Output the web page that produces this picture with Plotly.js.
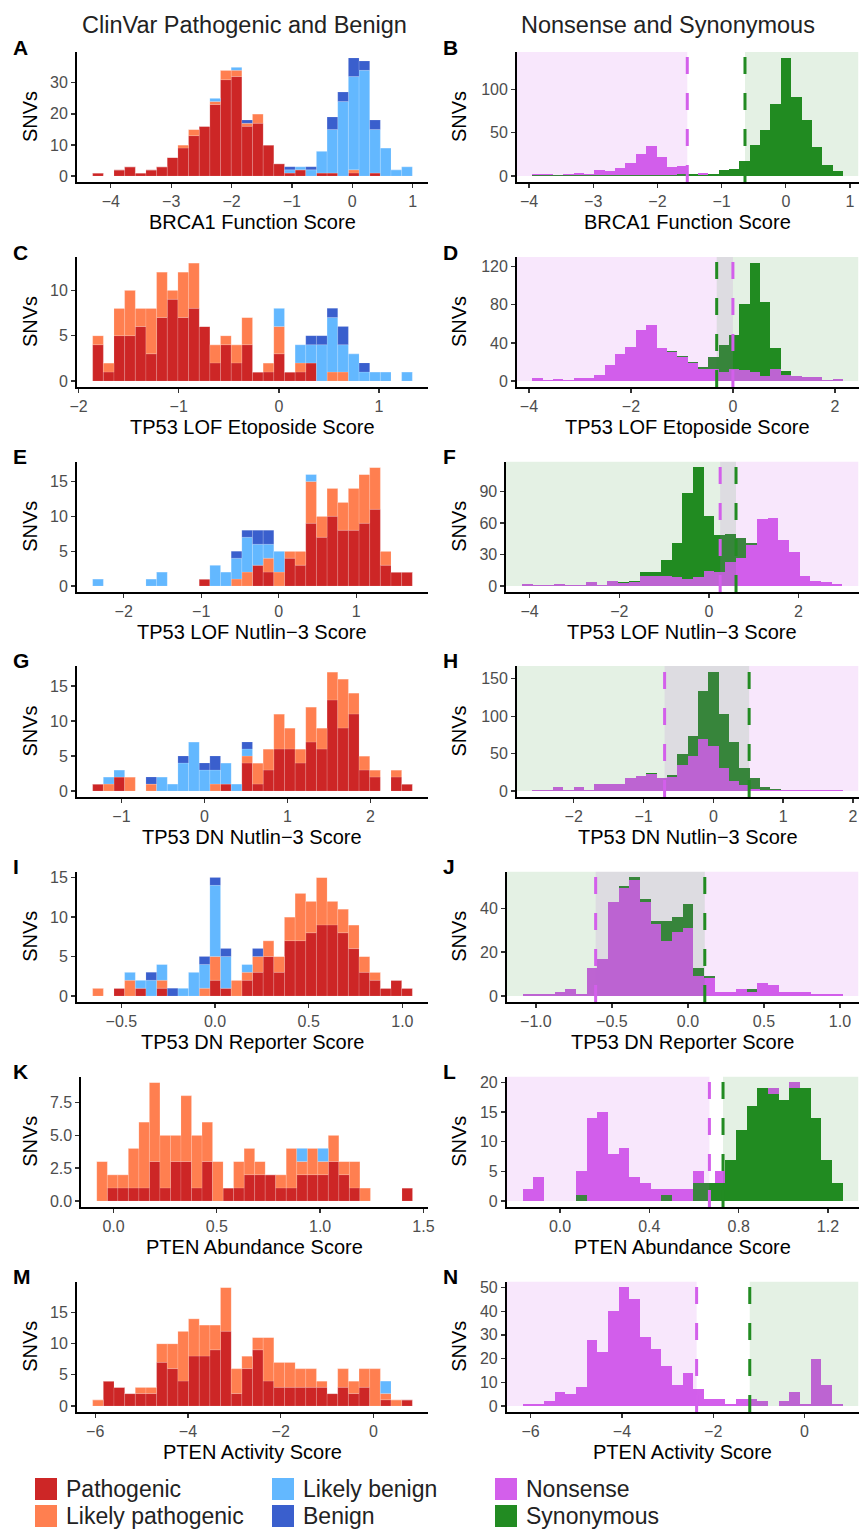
<!DOCTYPE html>
<html>
<head>
<meta charset="utf-8">
<script src="https://cdn.plot.ly/plotly-3.0.1.min.js"></script>
<style>
html,body{margin:0;padding:0;background:#fff;}
#chart{width:859px;height:1531px;}
</style>
</head>
<body>
<div id="chart"></div>
<script>
// ================= DATA (30 histogram bins per panel) =================
// bin extents: [left edge of first bin, right edge of last bin]
const A_bins = [-4.30, 0.995];
const A_pathogenic      = [1,0,2,3,1,2,3,6,9,13,16,23,31,32,16,17,10,4,1,2,0,1,1,0,1,0,1,0,0,0];
const A_likelyPath      = [0,0,0,0,0,0,0,0,1,2,0,1,3,2,1,3,0,0,0,0,0,0,0,0,1,0,0,0,0,0];
const A_likelyBenign    = [0,0,0,0,0,0,0,0,0,0,0,1,0,1,0,0,0,0,1,1,2,7,14,24,30,34,14,9,2,3];
const A_benign          = [0,0,0,0,0,0,0,0,0,0,0,0,0,0,1,0,0,0,1,0,1,0,4,3,6,3,3,0,0,0];

const B_bins = [-3.95, 0.89];
const B_nonsense   = [2,2,1,2,3,2,7,6,9,15,26,35,22,10,12,1,3,1,0,0,0,0,0,0,0,0,0,0,0,0];
const B_synonymous = [1,1,1,1,1,1,1,1,1,1,1,1,1,1,2,2,1,2,7,8,17,36,53,83,136,91,65,33,13,6];
const B_thresholds = {nonsense:-1.535, synonymous:-0.636};

const C_bins = [-1.859, 1.332];
const C_pathogenic   = [4,1,5,5,6,3,7,9,7,8,6,2,4,2,4,1,1,3,1,1,2,0,0,0,0,0,0,0,0,0];
const C_likelyPath   = [1,1,3,5,2,5,5,1,5,5,0,2,1,2,3,0,1,3,0,1,0,0,1,1,0,0,0,0,0,0];
const C_likelyBenign = [0,0,0,0,0,0,0,0,0,0,0,0,0,0,0,0,0,2,0,2,2,4,6,3,3,1,1,1,0,1];
const C_benign       = [0,0,0,0,0,0,0,0,0,0,0,0,0,0,0,0,0,0,0,0,1,1,1,2,0,1,0,0,0,0];

const D_bins = [-3.935, 2.158];
const D_nonsense   = [3,1,2,1,3,3,6,17,28,36,54,59,35,31,25,19,13,13,10,13,12,10,5,13,6,5,4,4,1,2];
const D_synonymous = [0,0,0,0,0,0,0,0,0,0,0,0,0,32,26,20,15,25,38,48,81,124,83,35,11,0,0,0,0,0];
const D_thresholds = {nonsense:0.0, synonymous:-0.318};

const E_bins = [-2.40, 1.723];
const E_pathogenic   = [0,0,0,0,0,0,0,0,0,0,1,0,0,0,0,3,2,0,4,3,9,7,10,8,8,9,11,3,2,2];
const E_likelyPath   = [0,0,0,0,0,0,0,0,0,0,0,0,0,1,2,0,2,2,1,2,6,3,4,4,6,7,6,2,0,0];
const E_likelyBenign = [1,0,0,0,0,1,2,0,0,0,0,3,2,3,5,3,2,3,0,0,1,0,0,0,0,0,0,0,0,0];
const E_benign       = [0,0,0,0,0,0,0,0,0,0,0,0,0,1,1,2,2,0,0,0,0,0,0,0,0,0,0,0,0,0];

const F_bins = [-4.17, 2.98];
const F_nonsense   = [2,1,1,2,1,1,4,1,5,3,4,10,10,10,9,7,9,14,13,23,27,39,64,65,44,32,10,5,4,2];
const F_synonymous = [0,0,0,0,0,0,0,0,0,4,5,13,13,25,41,89,113,67,49,50,46,41,0,0,0,0,0,0,0,0];
const F_thresholds = {nonsense:0.251, synonymous:0.605};

const G_bins = [-1.346, 2.504];
const G_pathogenic   = [1,0,2,0,0,0,0,0,0,0,0,0,1,0,4,1,3,6,6,4,7,6,13,9,11,3,2,0,2,1];
const G_likelyPath   = [0,1,0,2,0,1,0,0,0,0,0,1,0,0,1,3,3,5,3,2,5,3,4,7,3,2,1,0,1,0];
const G_likelyBenign = [0,1,1,0,0,0,2,1,4,7,3,2,3,1,1,0,0,0,0,0,0,0,0,0,0,0,0,0,0,0];
const G_benign       = [0,0,0,0,0,1,0,0,1,0,1,2,0,0,1,0,0,0,0,0,0,0,0,0,0,0,0,0,0,0];

const H_bins = [-2.594, 1.857];
const H_nonsense   = [2,1,5,2,6,1,9,9,9,17,20,23,18,19,35,47,69,60,31,14,8,3,2,2,1,1,1,2,1,1];
const H_synonymous = [0,0,0,0,0,0,0,0,0,0,0,24,15,22,50,74,133,159,103,66,31,18,5,3,2,0,0,0,0,0];
const H_thresholds = {nonsense:-0.698, synonymous:0.513};

const I_bins = [-0.653, 1.053];
const I_pathogenic   = [0,0,1,0,1,0,1,0,0,0,0,2,1,0,2,3,5,3,7,7,8,9,9,8,6,3,2,1,2,1];
const I_likelyPath   = [1,0,0,2,0,0,1,0,0,0,1,3,0,2,1,2,2,2,3,6,4,6,3,3,3,2,1,0,0,0];
const I_likelyBenign = [0,0,0,1,1,2,2,0,1,3,3,9,4,0,1,0,0,0,0,0,0,0,0,0,0,0,0,0,0,0];
const I_benign       = [0,0,0,0,0,1,0,1,0,0,1,1,1,0,0,1,0,0,0,0,0,0,0,0,0,0,0,0,0,0];

const J_bins = [-1.087, 1.017];
const J_nonsense   = [1,1,1,2,3,1,13,17,43,49,53,43,33,25,29,31,9,8,2,2,3,2,6,5,2,2,2,1,1,1];
const J_synonymous = [0,0,0,0,0,0,0,0,0,50,54,44,34,34,36,42,13,9,0,0,0,3,0,0,0,0,0,0,0,0];
const J_thresholds = {nonsense:-0.607, synonymous:0.111};

const K_bins = [-0.081, 1.447];
const K_pathogenic   = [0,1,1,1,1,3,1,3,3,1,3,0,1,1,2,2,2,1,1,2,2,2,3,2,1,0,0,0,0,1];
const K_likelyPath   = [3,1,1,3,5,6,4,2,5,4,3,3,0,2,2,1,0,1,3,1,2,1,2,1,2,1,0,0,0,0];
const K_likelyBenign = [0,0,0,0,0,0,0,0,0,0,0,0,0,0,0,0,0,0,0,1,0,1,0,0,0,0,0,0,0,0];
const K_benign       = [0,0,0,0,0,0,0,0,0,0,0,0,0,0,0,0,0,0,0,0,0,0,0,0,0,0,0,0,0,0];

const L_bins = [-0.168, 1.265];
const L_nonsense   = [2,4,0,0,0,5,14,15,8,9,4,3,2,2,2,2,5,3,5,0,0,0,0,19,0,20,0,0,0,0];
const L_synonymous = [0,0,0,0,0,1,0,0,0,0,0,0,0,1,0,0,3,3,3,7,12,16,19,18,17,19,19,14,7,3];
const L_thresholds = {nonsense:0.669, synonymous:0.730};

const M_bins = [-6.054, 0.837];
const M_pathogenic   = [0,4,3,2,2,2,7,6,4,8,8,9,12,2,6,9,4,3,3,3,3,3,2,3,2,3,0,1,0,1];
const M_likelyPath   = [1,0,0,0,1,1,3,4,8,6,5,4,7,4,2,2,7,4,4,3,3,1,0,3,2,3,6,1,1,0];
const M_likelyBenign = [0,0,0,0,0,0,0,0,0,0,0,0,0,0,0,0,0,0,0,0,0,0,0,0,0,0,0,2,0,0];
const M_benign       = [0,0,0,0,0,0,0,0,0,0,0,0,0,0,0,0,0,0,0,0,0,0,0,0,0,0,0,0,0,0];

const N_bins = [-6.177, 0.831];
const N_nonsense   = [1,1,2,6,5,8,28,23,40,50,45,29,24,17,9,14,7,3,3,1,3,3,2,0,2,6,1,20,9,1];
const N_synonymous = [0,0,0,0,0,0,0,0,0,0,0,0,0,0,0,0,0,0,0,0,0,0,0,0,0,0,0,0,0,0];
const N_thresholds = {nonsense:-2.364, synonymous:-1.20};

// tick labels
const A_xticks=[-4,-3,-2,-1,0,1],  A_yticks=[0,10,20,30];
const B_xticks=[-4,-3,-2,-1,0,1],  B_yticks=[0,50,100];
const C_xticks=[-2,-1,0,1],        C_yticks=[0,5,10];
const D_xticks=[-4,-2,0,2],        D_yticks=[0,40,80,120];
const E_xticks=[-2,-1,0,1],        E_yticks=[0,5,10,15];
const F_xticks=[-4,-2,0,2],        F_yticks=[0,30,60,90];
const G_xticks=[-1,0,1,2],         G_yticks=[0,5,10,15];
const H_xticks=[-2,-1,0,1,2],      H_yticks=[0,50,100,150];
const I_xticks=[-0.5,0,0.5,1],     I_yticks=[0,5,10,15];
const J_xticks=[-1,-0.5,0,0.5,1],  J_yticks=[0,20,40];
const K_xticks=[0,0.5,1,1.5],      K_yticks=[0,2.5,5,7.5];
const L_xticks=[0,0.4,0.8,1.2],    L_yticks=[0,5,10,15,20];
const M_xticks=[-6,-4,-2,0],       M_yticks=[0,5,10,15];
const N_xticks=[-6,-4,-2,0],       N_yticks=[0,10,20,30,40,50];

const axisTitles = ['BRCA1 Function Score','TP53 LOF Etoposide Score','TP53 LOF Nutlin\u22123 Score',
  'TP53 DN Nutlin\u22123 Score','TP53 DN Reporter Score','PTEN Abundance Score','PTEN Activity Score'];
const columnTitles = ['ClinVar Pathogenic and Benign','Nonsense and Synonymous'];
const legendLabels = ['Pathogenic','Likely pathogenic','Likely benign','Benign','Nonsense','Synonymous'];

// ================= STYLE / LAYOUT CONFIG =================
const W = 859, H = 1531;
const FONT = 'Liberation Sans, Arial, Helvetica, sans-serif';
const COLORS = {P:'#CD2626', LP:'#FF7F50', LB:'#63B8FF', B:'#3A5FCD', NS:'#D35FEB', SY:'#228B22'};
const ROWS = [[52,182],[257,387],[461.5,592],[666,797],[871.5,1002],[1076.5,1207],[1281.5,1412]];

const panels = [
 {id:'A', row:0, left:76.7,  bins:A_bins, st:[A_pathogenic,A_likelyPath,A_likelyBenign,A_benign], xt:A_xticks, yt:A_yticks},
 {id:'B', row:0, left:516.7, bins:B_bins, ns:B_nonsense, sy:B_synonymous, thr:B_thresholds, nsLow:true,  top:'SY', xt:B_xticks, yt:B_yticks},
 {id:'C', row:1, left:76.7,  bins:C_bins, st:[C_pathogenic,C_likelyPath,C_likelyBenign,C_benign], xt:C_xticks, yt:C_yticks},
 {id:'D', row:1, left:516.7, bins:D_bins, ns:D_nonsense, sy:D_synonymous, thr:D_thresholds, nsLow:true,  top:'NS', xt:D_xticks, yt:D_yticks},
 {id:'E', row:2, left:76.7,  bins:E_bins, st:[E_pathogenic,E_likelyPath,E_likelyBenign,E_benign], xt:E_xticks, yt:E_yticks},
 {id:'F', row:2, left:506,   bins:F_bins, ns:F_nonsense, sy:F_synonymous, thr:F_thresholds, nsLow:false, top:'NS', xt:F_xticks, yt:F_yticks},
 {id:'G', row:3, left:76.7,  bins:G_bins, st:[G_pathogenic,G_likelyPath,G_likelyBenign,G_benign], xt:G_xticks, yt:G_yticks},
 {id:'H', row:3, left:516.7, bins:H_bins, ns:H_nonsense, sy:H_synonymous, thr:H_thresholds, nsLow:false, top:'NS', xt:H_xticks, yt:H_yticks},
 {id:'I', row:4, left:76.7,  bins:I_bins, st:[I_pathogenic,I_likelyPath,I_likelyBenign,I_benign], xt:I_xticks, yt:I_yticks, xf:'.1f'},
 {id:'J', row:4, left:506.7, bins:J_bins, ns:J_nonsense, sy:J_synonymous, thr:J_thresholds, nsLow:false, top:'NS', xt:J_xticks, yt:J_yticks, xf:'.1f'},
 {id:'K', row:5, left:81,    bins:K_bins, st:[K_pathogenic,K_likelyPath,K_likelyBenign,K_benign], xt:K_xticks, yt:K_yticks, xf:'.1f', yf:'.1f'},
 {id:'L', row:5, left:506.5, bins:L_bins, ns:L_nonsense, sy:L_synonymous, thr:L_thresholds, nsLow:true,  top:'SY', xt:L_xticks, yt:L_yticks, xf:'.1f'},
 {id:'M', row:6, left:76.7,  bins:M_bins, st:[M_pathogenic,M_likelyPath,M_likelyBenign,M_benign], xt:M_xticks, yt:M_yticks},
 {id:'N', row:6, left:506.5, bins:N_bins, ns:N_nonsense, sy:N_synonymous, thr:N_thresholds, nsLow:true,  top:'SY', xt:N_xticks, yt:N_yticks}
];

const px = x => x / W;
const py = y => 1 - y / H;

const traces = [];
const layout = {
  width: W, height: H,
  margin: {l:0, r:0, t:0, b:0},
  paper_bgcolor: '#fff', plot_bgcolor: 'rgba(0,0,0,0)',
  barmode: 'overlay', bargap: 0,
  showlegend: false,
  font: {family: FONT, color: '#000'},
  shapes: [], annotations: []
};

const stackKeys = ['P','LP','LB','B'];

panels.forEach((p, i) => {
  const k = i + 1;
  const sfx = k === 1 ? '' : String(k);
  const xa = 'x' + sfx, ya = 'y' + sfx;
  const n = 30;
  const w = (p.bins[1] - p.bins[0]) / n;
  const cx = Array.from({length:n}, (_, j) => p.bins[0] + (j + 0.5) * w);
  const span = p.bins[1] - p.bins[0];
  const xr = [p.bins[0] - 0.05 * span, p.bins[1] + 0.05 * span];
  let ymax;
  const isLeft = !!p.st;
  if (isLeft) {
    let base = new Array(n).fill(0);
    p.st.forEach((arr, si) => {
      traces.push({type:'bar', x:cx, y:arr, base:base.slice(), width:w, xaxis:xa, yaxis:ya,
        marker:{color:COLORS[stackKeys[si]], line:{color:'rgba(255,255,255,0.35)', width:0.4}},
        hoverinfo:'skip', showlegend:false});
      base = base.map((b, j) => b + arr[j]);
    });
    ymax = Math.max(...base);
  } else {
    const nsT = {type:'bar', x:cx, y:p.ns, width:w, xaxis:xa, yaxis:ya,
      marker:{color:COLORS.NS, line:{width:0}}, hoverinfo:'skip', showlegend:false};
    const syT = {type:'bar', x:cx, y:p.sy, width:w, xaxis:xa, yaxis:ya,
      marker:{color:COLORS.SY, line:{width:0}}, hoverinfo:'skip', showlegend:false};
    if (p.top === 'NS') { traces.push(syT, nsT); } else { traces.push(nsT, syT); }
    ymax = Math.max(Math.max(...p.ns), Math.max(...p.sy));
  }
  const yr = [-0.05 * ymax, 1.05 * ymax];
  const row = ROWS[p.row];
  const right = isLeft ? 428.3 : 858.5;

  layout['xaxis' + sfx] = {
    domain:[px(p.left), px(right)], anchor:ya, range:xr, fixedrange:true,
    tickmode:'array', tickvals:p.xt, tickformat:p.xf || '',
    showgrid:false, zeroline:false, showline:true, linecolor:'#000', linewidth:1.6,
    ticks:'outside', ticklen:4, tickwidth:1.3, tickcolor:'#333',
    tickfont:{family:FONT, size:16, color:'#4D4D4D'}
  };
  layout['yaxis' + sfx] = {
    domain:[py(row[1]), py(row[0])], anchor:xa, range:yr, fixedrange:true,
    tickmode:'array', tickvals:p.yt, tickformat:p.yf || '',
    showgrid:false, zeroline:false, showline:true, linecolor:'#000', linewidth:1.6,
    ticks:'outside', ticklen:4, tickwidth:1.3, tickcolor:'#333',
    tickfont:{family:FONT, size:16, color:'#4D4D4D'}
  };

  if (!isLeft) {
    const nsRect = p.nsLow ? [xr[0], p.thr.nonsense] : [p.thr.nonsense, xr[1]];
    const syRect = p.nsLow ? [p.thr.synonymous, xr[1]] : [xr[0], p.thr.synonymous];
    layout.shapes.push({type:'rect', xref:xa, yref:ya, x0:nsRect[0], x1:nsRect[1], y0:0, y1:yr[1],
      fillcolor:COLORS.NS, opacity:0.15, line:{width:0}, layer:'above'});
    layout.shapes.push({type:'rect', xref:xa, yref:ya, x0:syRect[0], x1:syRect[1], y0:0, y1:yr[1],
      fillcolor:COLORS.SY, opacity:0.12, line:{width:0}, layer:'above'});
    layout.shapes.push({type:'line', xref:xa, yref:ya + ' domain', x0:p.thr.nonsense, x1:p.thr.nonsense, y0:0, y1:1,
      line:{color:COLORS.NS, width:3, dash:'17px,19px'}, layer:'above'});
    layout.shapes.push({type:'line', xref:xa, yref:ya + ' domain', x0:p.thr.synonymous, x1:p.thr.synonymous, y0:0, y1:1,
      line:{color:COLORS.SY, width:3, dash:'17px,19px'}, layer:'above'});
  }

  // panel letter
  layout.annotations.push({text:'<b>' + p.id + '</b>', xref:'paper', yref:'paper',
    x: px(isLeft ? 11 : 441), y: py(row[0] - 5), xanchor:'left', yanchor:'middle', showarrow:false,
    font:{family:FONT, size:21, color:'#000'}});
  // y title
  layout.annotations.push({text:'SNVs', xref:'paper', yref:'paper', textangle:-90,
    x: px(isLeft ? 30 : 459), y: py((row[0] + row[1]) / 2), xanchor:'center', yanchor:'middle', showarrow:false,
    font:{family:FONT, size:20, color:'#000'}});
  // x title
  layout.annotations.push({text:axisTitles[p.row], xref:'paper', yref:'paper',
    x: px((p.left + right) / 2), y: py(row[1] + 40), xanchor:'center', yanchor:'middle', showarrow:false,
    font:{family:FONT, size:20, color:'#000'}});
});

// column titles
[244, 668].forEach((cxp, ci) => {
  layout.annotations.push({text:columnTitles[ci], xref:'paper', yref:'paper', x:px(cxp), y:py(25),
    xanchor:'center', yanchor:'middle', showarrow:false, font:{family:FONT, size:23.5, color:'#222'}});
});

// legend (3 columns x 2 rows)
const legendColors = [COLORS.P, COLORS.LP, COLORS.LB, COLORS.B, COLORS.NS, COLORS.SY];
const legCols = [35, 272, 495], legRows = [1489, 1516];
legendLabels.forEach((lab, li) => {
  const c = Math.floor(li / 2), r = li % 2;
  const x0 = legCols[c], yc = legRows[r];
  layout.shapes.push({type:'rect', xref:'paper', yref:'paper', x0:px(x0), x1:px(x0 + 22),
    y0:py(yc + 11), y1:py(yc - 11), fillcolor:legendColors[li], line:{width:0}});
  layout.annotations.push({text:lab, xref:'paper', yref:'paper', x:px(x0 + 29), y:py(yc),
    xanchor:'left', yanchor:'middle', showarrow:false, font:{family:FONT, size:23, color:'#222'}});
});

Plotly.newPlot('chart', traces, layout, {staticPlot:true, displayModeBar:false});
</script>
</body>
</html>
